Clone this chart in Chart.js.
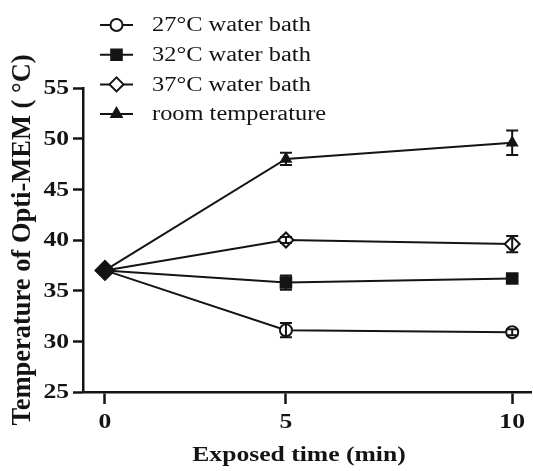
<!DOCTYPE html>
<html>
<head>
<meta charset="utf-8">
<script src="https://cdn.jsdelivr.net/npm/chart.js@4"></script>
<style>
  html, body { margin: 0; padding: 0; background: #fff; overflow: hidden; }
  #wrap { width: 533px; height: 471px; position: relative; }
  #c { display: block; }
</style>
</head>
<body>
<div id="wrap"><canvas id="c"></canvas></div>
<script>
// Exposure times (min) and y-axis range
const times = [0, 5, 10];
const yMin = 25, yMax = 55, yStep = 5;

// Opti-MEM temperature (°C), mean and error per series
const bath27 = [37, 31.1, 30.9];
const bath27Err = [0, 0.7, 0.3];
const bath32 = [37, 35.8, 36.2];
const bath32Err = [0, 0.7, 0.3];
const bath37 = [37, 40.0, 39.6];
const bath37Err = [0, 0.3, 0.8];
const roomTemp = [37, 48.0, 49.6];
const roomTempErr = [0, 0.6, 1.2];

const seriesNames = ['27\u00B0C water bath', '32\u00B0C water bath', '37\u00B0C water bath', 'room temperature'];
const xTitle = 'Exposed time (min)';
const yTitle = 'Temperature of Opti-MEM ( \u00B0C)';

const INK = '#141414';
const SERIF = '"Liberation Serif", "Times New Roman", serif';
const WIDEN = 1.22; // horizontal widening of the upright text

// Linear scale whose values are placed on a piecewise-linear track
class AnchoredLinearScale extends Chart.LinearScale {
  _frac(value) {
    const v = AnchoredLinearScale.anchorValues, f = AnchoredLinearScale.anchorFractions;
    let i = 0;
    while (i < v.length - 2 && value > v[i + 1]) i++;
    return f[i] + (value - v[i]) * (f[i + 1] - f[i]) / (v[i + 1] - v[i]);
  }
  getPixelForValue(value) {
    return this.left + this._frac(value) * this.width;
  }
  getValueForPixel(pixel) {
    const v = AnchoredLinearScale.anchorValues, f = AnchoredLinearScale.anchorFractions;
    const fr = (pixel - this.left) / this.width;
    let i = 0;
    while (i < f.length - 2 && fr > f[i + 1]) i++;
    return v[i] + (fr - f[i]) * (v[i + 1] - v[i]) / (f[i + 1] - f[i]);
  }
}
AnchoredLinearScale.id = 'anchoredLinear';
AnchoredLinearScale.defaults = Chart.LinearScale.defaults;
AnchoredLinearScale.anchorValues = [0, 5, 10];
AnchoredLinearScale.anchorFractions = [0.049, 0.453, 0.958];
Chart.register(AnchoredLinearScale);

function toPoints(ys) { return times.map((t, i) => ({ x: t, y: ys[i] })); }

function wideText(ctx, text, x, y, align, font) {
  ctx.save();
  ctx.translate(x, y);
  ctx.scale(WIDEN, 1);
  ctx.font = font;
  ctx.fillStyle = INK;
  ctx.textAlign = align;
  ctx.textBaseline = 'middle';
  ctx.fillText(text, 0, 0);
  ctx.restore();
}

// Vertical error bars with caps, drawn over each point
const errorBars = {
  id: 'errorBars',
  afterDatasetsDraw(chart) {
    const { ctx, scales: { y } } = chart;
    ctx.save();
    ctx.strokeStyle = INK;
    ctx.lineWidth = 2;
    chart.data.datasets.forEach((ds, di) => {
      const meta = chart.getDatasetMeta(di);
      meta.data.forEach((pt, i) => {
        const e = ds.errors[i];
        if (!e) return;
        const v = ds.data[i].y;
        const yTop = y.getPixelForValue(v + e);
        const yBot = y.getPixelForValue(v - e);
        const half = 6;
        ctx.beginPath();
        ctx.moveTo(pt.x, yTop); ctx.lineTo(pt.x, yBot);
        ctx.moveTo(pt.x - half, yTop); ctx.lineTo(pt.x + half, yTop);
        ctx.moveTo(pt.x - half, yBot); ctx.lineTo(pt.x + half, yBot);
        ctx.stroke();
      });
    });
    ctx.restore();
  }
};

// Tick labels and the x-axis title, placed from the scales
const axisText = {
  id: 'axisText',
  afterDraw(chart) {
    const { ctx, scales: { x, y } } = chart;
    const tickFont = 'bold 21px ' + SERIF;
    y.ticks.forEach(t => {
      wideText(ctx, String(t.label), y.right - 14, y.getPixelForValue(t.value) + 1, 'right', tickFont);
    });
    x.ticks.forEach(t => {
      wideText(ctx, String(t.label), x.getPixelForValue(t.value), x.top + 31, 'center', tickFont);
    });
    wideText(ctx, xTitle, (x.left + x.right) / 2 - 8, x.top + 64, 'center', 'bold 21px ' + SERIF);
  }
};

// Legend: short line with the series marker, then the label
const lineLegend = {
  id: 'lineLegend',
  afterDraw(chart) {
    const { ctx } = chart;
    chart.data.datasets.forEach((ds, i) => {
      const cy = 25 + i * 29.7;
      ctx.save();
      ctx.strokeStyle = INK;
      ctx.lineWidth = 2;
      ctx.beginPath();
      ctx.moveTo(100, cy); ctx.lineTo(133, cy);
      ctx.stroke();
      ctx.fillStyle = ds.legendFill;
      Chart.helpers.drawPoint(ctx, {
        pointStyle: ds.pointStyle, radius: ds.legendRadius, borderWidth: 2, rotation: 0
      }, 116.5, cy);
      ctx.restore();
      wideText(ctx, ds.label, 152, cy + 1, 'left', '20px ' + SERIF);
    });
  }
};

const common = {
  borderColor: INK,
  borderWidth: 2,
  tension: 0,
  pointBorderColor: INK,
  pointBorderWidth: 2,
  pointHoverRadius: 0,
  clip: false,
};

new Chart(document.getElementById('c'), {
  type: 'line',
  data: {
    datasets: [
      { ...common, label: seriesNames[0], data: toPoints(bath27), errors: bath27Err,
        pointStyle: 'circle', pointRadius: [0, 6, 6], pointBackgroundColor: '#fff',
        legendFill: '#fff', legendRadius: 6, order: 2 },
      { ...common, label: seriesNames[1], data: toPoints(bath32), errors: bath32Err,
        pointStyle: 'rect', pointRadius: [0, 7.5, 7.5], pointBackgroundColor: INK,
        legendFill: INK, legendRadius: 7.5, order: 2 },
      { ...common, label: seriesNames[2], data: toPoints(bath37), errors: bath37Err,
        pointStyle: 'rectRot', pointRadius: [9.5, 7.5, 7.5], pointBackgroundColor: [INK, '#fff', '#fff'],
        legendFill: '#fff', legendRadius: 7, order: 1 },
      { ...common, label: seriesNames[3], data: toPoints(roomTemp), errors: roomTempErr,
        pointStyle: 'triangle', pointRadius: [0, 5.5, 5.5], pointBackgroundColor: INK,
        legendFill: INK, legendRadius: 6, order: 2 },
    ]
  },
  options: {
    responsive: true,
    maintainAspectRatio: false,
    animation: false,
    events: [],
    layout: { autoPadding: false, padding: { top: 88, right: 2, left: 0, bottom: 0 } },
    plugins: { legend: { display: false }, tooltip: { enabled: false } },
    scales: {
      x: {
        type: 'anchoredLinear',
        min: 0, max: 10,
        afterFit(scale) { scale.height = 79; scale.paddingLeft = 0; scale.paddingRight = 0; },
        border: { display: true, color: INK, width: 2.5 },
        grid: { drawOnChartArea: false, drawTicks: true, tickLength: 12, tickColor: INK, tickWidth: 2.5, color: INK },
        ticks: { stepSize: 5, display: false },
        title: { display: false, text: xTitle }
      },
      y: {
        min: yMin, max: yMax,
        afterFit(scale) { scale.width = 83; scale.paddingTop = 0; scale.paddingBottom = 0; },
        border: { display: true, color: INK, width: 2.5 },
        grid: { drawOnChartArea: false, drawTicks: true, tickLength: 10, tickColor: INK, tickWidth: 2.5, color: INK },
        ticks: { stepSize: yStep, display: false },
        title: { display: true, text: yTitle, color: INK, padding: { top: 7, bottom: 0 },
                 font: { family: SERIF, size: 26.5, weight: 'bold' } }
      }
    }
  },
  plugins: [errorBars, axisText, lineLegend]
});
</script>
</body>
</html>
